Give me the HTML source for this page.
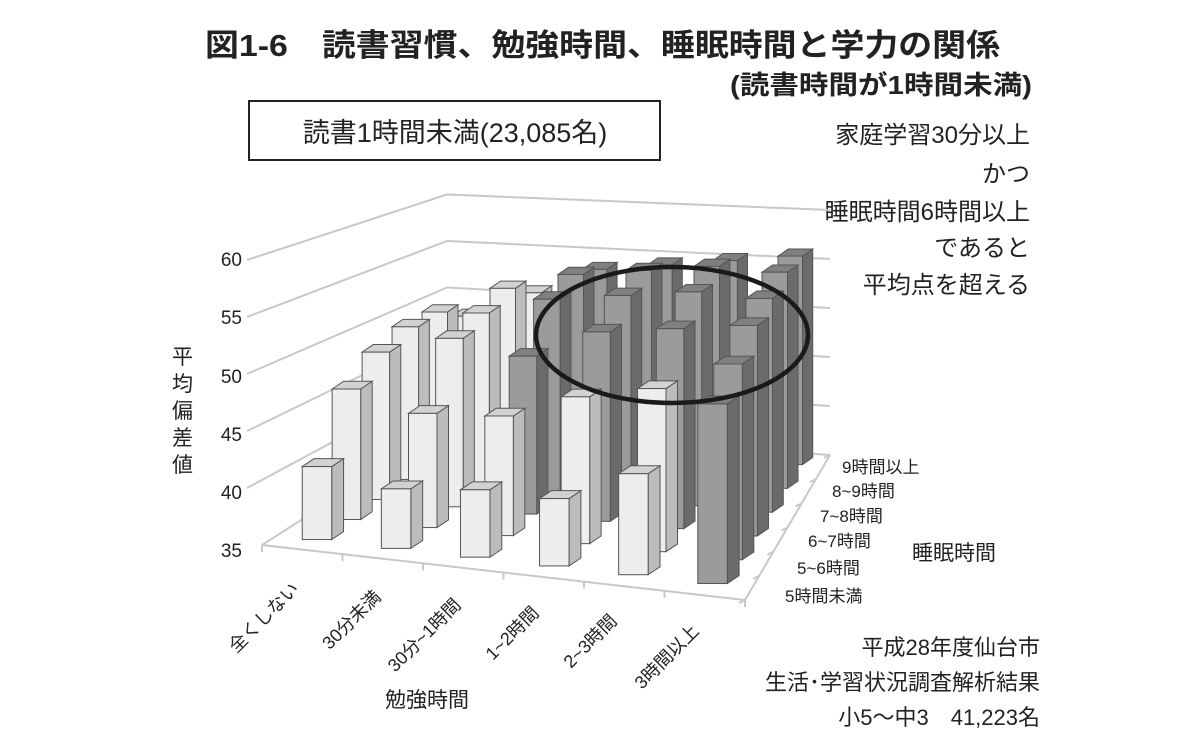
<!DOCTYPE html><html><head><meta charset="utf-8"><style>
body{margin:0;background:#fff}
svg text{font-family:"Liberation Sans","Noto Sans CJK JP",sans-serif;fill:#222}
</style></head><body>
<svg id="s" width="1200" height="741" viewBox="0 0 1200 741" xmlns="http://www.w3.org/2000/svg">
<text x="205" y="56" font-size="31" font-weight="bold" textLength="795" lengthAdjust="spacingAndGlyphs">図1-6　読書習慣、勉強時間、睡眠時間と学力の関係</text>
<text x="1032" y="94" font-size="26" font-weight="bold" text-anchor="end" textLength="302" lengthAdjust="spacingAndGlyphs">(読書時間が1時間未満)</text>
<rect x="249" y="101" width="411" height="59" fill="none" stroke="#222" stroke-width="2"/>
<text x="455" y="142" font-size="27" text-anchor="middle">読書1時間未満(23,085名)</text>
<g font-size="24" text-anchor="end">
<text x="1030" y="143">家庭学習30分以上</text>
<text x="1030" y="182">かつ</text>
<text x="1030" y="220">睡眠時間6時間以上</text>
<text x="1030" y="256">であると</text>
<text x="1030" y="293">平均点を超える</text>
</g>
<g id="grid" stroke="#c8c8c8" stroke-width="2" fill="none"></g>
<g id="bars" stroke="#555" stroke-width="1"></g>
<ellipse cx="672" cy="335" rx="136" ry="68" fill="none" stroke="#1a1a1a" stroke-width="4.5"/>
<g font-size="19" text-anchor="end" fill="#333">
<text x="242" y="266">60</text><text x="242" y="324">55</text><text x="242" y="383">50</text>
<text x="242" y="441">45</text><text x="242" y="499">40</text><text x="242" y="557">35</text>
</g>
<g font-size="21">
<text x="172" y="364">平</text><text x="172" y="391">均</text><text x="172" y="418">偏</text><text x="172" y="445">差</text><text x="172" y="472">値</text>
</g>
<g font-size="18" text-anchor="end">
<text transform="translate(300,590) rotate(-45)">全くしない</text>
<text transform="translate(382,598) rotate(-45)">30分未満</text>
<text transform="translate(462,606) rotate(-45)">30分~1時間</text>
<text transform="translate(540,614) rotate(-45)">1~2時間</text>
<text transform="translate(618,622) rotate(-45)">2~3時間</text>
<text transform="translate(700,632) rotate(-45)">3時間以上</text>
</g>
<g font-size="17">
<text x="842" y="473">9時間以上</text>
<text x="832" y="497">8~9時間</text>
<text x="820" y="522">7~8時間</text>
<text x="808" y="547">6~7時間</text>
<text x="797" y="574">5~6時間</text>
<text x="785" y="602">5時間未満</text>
</g>
<text x="912" y="560" font-size="21">睡眠時間</text>
<text x="385" y="707" font-size="21">勉強時間</text>
<g font-size="22" text-anchor="end">
<text x="1040" y="655">平成28年度仙台市</text>
<text x="1040" y="690">生活･学習状況調査解析結果</text>
<text x="1040" y="725">小5～中3　41,223名</text>
</g>
</svg>
<script>
var NS="http://www.w3.org/2000/svg";
function el(p,t,a){var e=document.createElementNS(NS,t);for(var k in a)e.setAttribute(k,a[k]);p.appendChild(e);return e;}
var g=document.getElementById('grid');
for(var v=35;v<=60;v+=5){
 var yl=545-(v-35)*11.4, xl=v==35?262:247;
 var yb=427-(v-35)*9.3, yr=455-(v-35)*9.8;
 el(g,'polyline',{points:xl+','+yl+' 447,'+yb+' 830,'+yr});
}
el(g,'polyline',{points:'262,545 745,600 830,455'});
for(var i=0;i<=6;i++){var x=262+483*i/6,y=545+55*i/6;el(g,'line',{x1:x,y1:y,x2:x,y2:y+7});}
for(var j=0;j<=6;j++){var x=745+85*j/6,y=600-145*j/6;el(g,'line',{x1:x,y1:y,x2:x-6,y2:y+3});}
var F0=[262,545],F1=[745,600],B0=[447,427],B1=[830,455];
function L(a,b,t){return [a[0]+(b[0]-a[0])*t,a[1]+(b[1]-a[1])*t];}
var V=[[41.5,40.3,41,41,44,51],[47,45.5,46,48.5,50,53],[49,51,50,53,54,55],[50,52,54,55,56,56],[50,53,55,56,57,57],[48,51,54,55,56,57]];
var b=document.getElementById('bars');
for(var j=5;j>=0;j--)for(var i=0;i<6;i++){
 var u=(i+0.5)/6,w=(j+0.5)/6;
 var p=L(L(F0,F1,u),L(B0,B1,u),w);
 var s=11.4+(9.3-11.4)*w;
 var h=(V[j][i]-35)*s;
 var bw=30-6*w, dx=12-2*w, dy=8-1*w;
 var x0=p[0]-bw/2, x1=p[0]+bw/2, yb=p[1], yt=p[1]-h;
 var dark=(i==5)||(i>=2&&j>=2);
 var cf=dark?'#9b9b9b':'#ededed',cs=dark?'#6b6b6b':'#bcbcbc',ct=dark?'#808080':'#d2d2d2';
 el(b,'polygon',{points:x1+','+yt+' '+(x1+dx)+','+(yt-dy)+' '+(x1+dx)+','+(yb-dy)+' '+x1+','+yb,fill:cs});
 el(b,'polygon',{points:x0+','+yt+' '+(x0+dx)+','+(yt-dy)+' '+(x1+dx)+','+(yt-dy)+' '+x1+','+yt,fill:ct});
 el(b,'rect',{x:x0,y:yt,width:bw,height:h,fill:cf});
}
</script>
</body></html>
